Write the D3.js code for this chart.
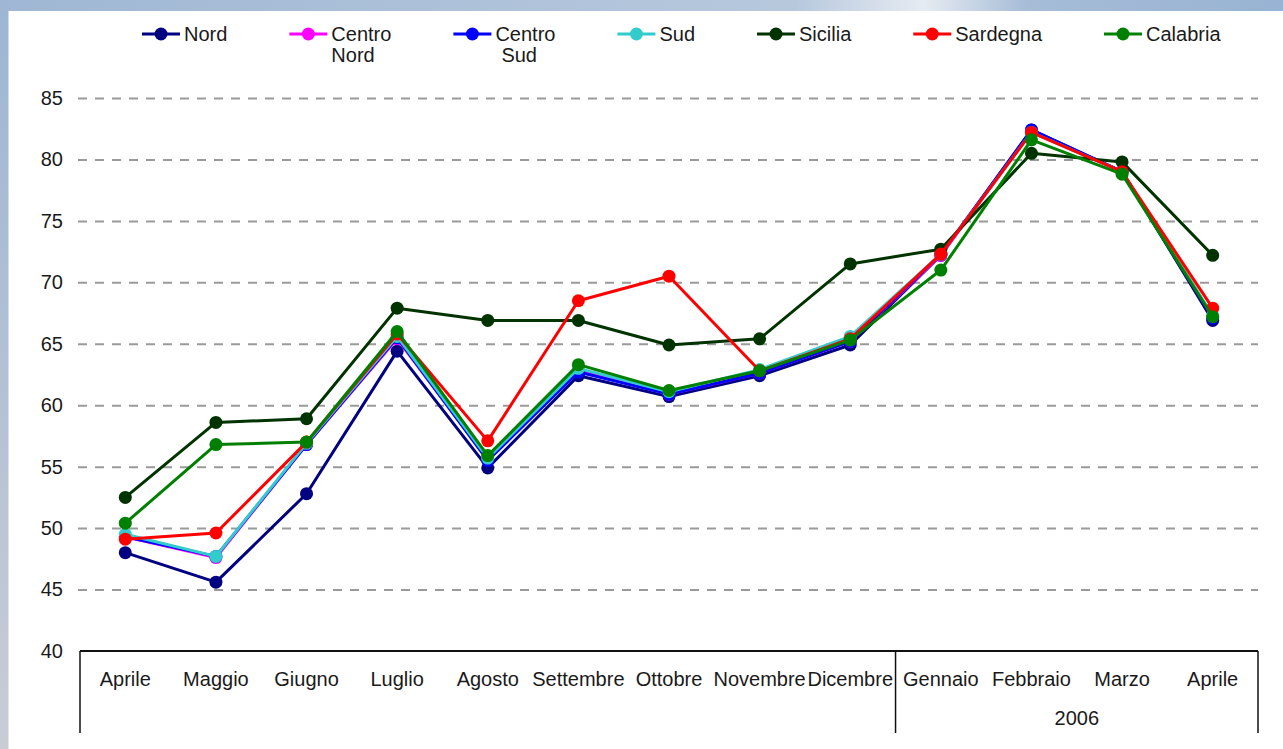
<!DOCTYPE html>
<html>
<head>
<meta charset="utf-8">
<script src="https://cdn.jsdelivr.net/npm/d3@7"></script>
<style>
  body { margin: 0; background: #fff; }
  svg { display: block; font-family: "Liberation Sans", Arial, sans-serif; }
</style>
</head>
<body>
<div id="chart_div"></div>
<script>
// Months on the x axis (the last five belong to 2006)
var months = ["Aprile", "Maggio", "Giugno", "Luglio", "Agosto", "Settembre", "Ottobre",
              "Novembre", "Dicembre", "Gennaio", "Febbraio", "Marzo", "Aprile"];
var yearGroups = [{ label: "", from: 0, to: 8 }, { label: "2006", from: 9, to: 12 }];
var yTicks = [40, 45, 50, 55, 60, 65, 70, 75, 80, 85];

var seriesNames = ["Nord", "Centro\nNord", "Centro\nSud", "Sud", "Sicilia", "Sardegna", "Calabria"];
var seriesColors = ["#000080", "#ff00ff", "#0000ff", "#33cccc", "#003300", "#ff0000", "#008000"];

var nord       = [48.0, 45.6, 52.8, 64.4, 54.9, 62.4, 60.7, 62.4, 64.9, 72.2, 82.4, 79.0, 66.9];
var centroNord = [49.3, 47.6, 56.8, 65.4, 55.6, 62.8, 60.9, 62.6, 65.2, 72.2, 82.3, 79.0, 67.2];
var centroSud  = [49.3, 47.7, 56.8, 65.5, 55.5, 62.7, 60.9, 62.6, 65.2, 72.3, 82.4, 79.0, 67.1];
var sud        = [49.5, 47.7, 56.9, 65.6, 55.7, 63.0, 61.1, 62.9, 65.6, 72.3, 82.2, 79.0, 67.3];
var sicilia    = [52.5, 58.6, 58.9, 67.9, 66.9, 66.9, 64.9, 65.4, 71.5, 72.7, 80.5, 79.8, 72.2];
var sardegna   = [49.1, 49.6, 57.0, 65.8, 57.1, 68.5, 70.5, 62.8, 65.4, 72.3, 82.2, 79.0, 67.9];
var calabria   = [50.4, 56.8, 57.0, 66.0, 55.9, 63.3, 61.2, 62.8, 65.3, 71.0, 81.6, 78.8, 67.2];

var seriesValues = [nord, centroNord, centroSud, sud, sicilia, sardegna, calabria];

var width = 1283, height = 749;
var marginLeft = 80, marginRight = 25, marginTop = 98, marginBottom = 98;
var fontSize = "20px";

var svg = d3.select("#chart_div").append("svg")
    .attr("width", width)
    .attr("height", height)
    .attr("viewBox", [0, 0, width, height]);

// Slide background: blue frame top and left
var defs = svg.append("defs");
var leftGrad = defs.append("linearGradient").attr("id", "leftGrad")
    .attr("x1", 0).attr("y1", 0).attr("x2", 0).attr("y2", 1);
leftGrad.append("stop").attr("offset", "0%").attr("stop-color", "#9db6d4");
leftGrad.append("stop").attr("offset", "100%").attr("stop-color", "#c9ccd5");
var topGrad = defs.append("linearGradient").attr("id", "topGrad")
    .attr("x1", 0).attr("y1", 0).attr("x2", 1).attr("y2", 0);
topGrad.append("stop").attr("offset", "0%").attr("stop-color", "#9fb7d4");
topGrad.append("stop").attr("offset", "62%").attr("stop-color", "#b7c8dd");
topGrad.append("stop").attr("offset", "72%").attr("stop-color", "#e6ebf2");
topGrad.append("stop").attr("offset", "80%").attr("stop-color", "#a6bcd7");
topGrad.append("stop").attr("offset", "100%").attr("stop-color", "#98b3d3");

svg.append("rect").attr("width", width).attr("height", height).attr("fill", "#fff");
svg.append("rect").attr("width", width).attr("height", 11).attr("fill", "url(#topGrad)");
svg.append("rect").attr("y", 11).attr("width", 8.5).attr("height", height - 11).attr("fill", "url(#leftGrad)");

// Scales
var x = d3.scaleBand()
    .domain(d3.range(months.length))
    .range([marginLeft, width - marginRight])
    .padding(0);

var y = d3.scaleLinear()
    .domain([40, 85])
    .range([height - marginBottom, marginTop]);

// Dashed gridlines + y labels
var yAxis = svg.append("g")
    .attr("transform", `translate(${marginLeft},0)`)
    .call(d3.axisLeft(y).tickValues(yTicks).tickSize(0).tickPadding(17))
    .call(g => g.select(".domain").remove())
    .call(g => g.selectAll(".tick text")
        .attr("fill", "#1a1a1a")
        .style("font-size", fontSize)
        .style("font-family", "Liberation Sans, Arial, sans-serif"));

yAxis.selectAll(".tick")
    .filter(d => d !== 40)
    .append("line")
    .attr("x1", -2)
    .attr("x2", width - marginRight - marginLeft)
    .attr("stroke", "#9a9a9a")
    .attr("stroke-width", 2)
    .attr("stroke-dasharray", "9,8");

// Bottom axis box with category labels
var axisG = svg.append("g").attr("stroke", "#111");
var x0 = x(0), xEnd = x.range()[1];
axisG.append("line")
    .attr("x1", x0).attr("x2", xEnd)
    .attr("y1", y(40)).attr("y2", y(40))
    .attr("stroke-width", 2);

var groupEdges = [x0].concat(yearGroups.map(g => x(g.to) + x.bandwidth()));
axisG.selectAll("line.sep")
    .data(groupEdges)
    .join("line")
    .attr("class", "sep")
    .attr("x1", d => d).attr("x2", d => d)
    .attr("y1", y(40)).attr("y2", y(40) + 82)
    .attr("stroke-width", 1.5);

svg.append("g")
    .selectAll("text")
    .data(months)
    .join("text")
    .attr("x", (d, i) => x(i) + x.bandwidth() / 2)
    .attr("y", y(40) + 35)
    .attr("text-anchor", "middle")
    .attr("fill", "#1a1a1a")
    .style("font-size", fontSize)
    .text(d => d);

svg.append("g")
    .selectAll("text")
    .data(yearGroups.filter(g => g.label))
    .join("text")
    .attr("x", g => (x(g.from) + x(g.to) + x.bandwidth()) / 2)
    .attr("y", y(40) + 74)
    .attr("text-anchor", "middle")
    .attr("fill", "#1a1a1a")
    .style("font-size", fontSize)
    .text(g => g.label);

// Lines + markers
var series = seriesNames.map((name, i) => ({
    name: name,
    color: seriesColors[i],
    values: seriesValues[i]
}));

var line = d3.line()
    .x((d, i) => x(i) + x.bandwidth() / 2)
    .y(d => y(d));

var sg = svg.append("g")
    .selectAll("g")
    .data(series)
    .join("g");

sg.append("path")
    .attr("fill", "none")
    .attr("stroke", d => d.color)
    .attr("stroke-width", 3)
    .attr("stroke-linejoin", "round")
    .attr("d", d => line(d.values));

sg.selectAll("circle")
    .data(d => d.values.map(v => ({ v: v, color: d.color })))
    .join("circle")
    .attr("cx", (d, i) => x(i) + x.bandwidth() / 2)
    .attr("cy", d => y(d.v))
    .attr("r", 6.5)
    .attr("fill", d => d.color);

// Legend, laid out left to right from the measured text widths
var legend = svg.append("g");
var cursor = 142;
series.forEach(s => {
    var item = legend.append("g").attr("transform", `translate(${cursor},34)`);
    item.append("line")
        .attr("x1", 0).attr("x2", 38)
        .attr("stroke", s.color).attr("stroke-width", 3);
    item.append("circle")
        .attr("cx", 19).attr("r", 6.5).attr("fill", s.color);
    var txt = item.append("text")
        .attr("x", 42)
        .attr("y", 7)
        .attr("fill", "#1a1a1a")
        .style("font-size", fontSize);
    var parts = s.name.split("\n");
    parts.forEach((p, k) => {
        txt.append("tspan")
            .attr("x", 42 + (k > 0 && p === "Sud" ? 6 : 0))
            .attr("dy", k === 0 ? 0 : 21)
            .text(p);
    });
    var w = d3.max(txt.selectAll("tspan").nodes(), n => n.getComputedTextLength());
    cursor += 42 + w + 62;
});
</script>
</body>
</html>
